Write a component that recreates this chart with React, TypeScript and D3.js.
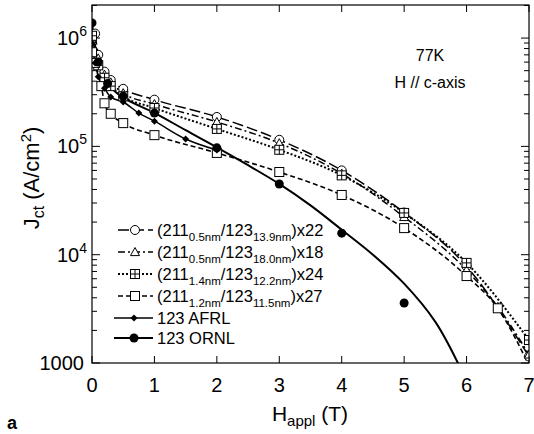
import React from 'react';
import * as d3 from 'd3';

// circles  (211 0.5nm / 123 13.9nm) x22
const hA = [0.05, 0.1, 0.2, 0.3, 0.5, 1, 2, 3, 4, 5, 6, 7];
const jA = [1.1e6, 7.0e5, 4.9e5, 4.1e5, 3.4e5, 2.7e5, 1.87e5, 1.15e5, 6.0e4, 2.45e4, 7.8e3, 1.15e3];
// triangles (211 0.5nm / 123 18.0nm) x18
const hB = [0, 0.1, 0.2, 0.3, 0.5, 1, 2, 3, 4, 5, 6, 6.5, 7];
const jB = [9.5e5, 6.5e5, 4.6e5, 3.9e5, 3.1e5, 2.46e5, 1.68e5, 1.07e5, 5.6e4, 2.23e4, 7.2e3, 3.3e3, 1.2e3];
// crossed squares (211 1.4nm / 123 12.2nm) x24
const hC = [0, 0.1, 0.2, 0.3, 0.5, 1, 2, 3, 4, 5, 6, 7];
const jC = [1.05e6, 5.6e5, 4.3e5, 3.6e5, 2.9e5, 2.26e5, 1.45e5, 9.3e4, 5.4e4, 2.43e4, 8.4e3, 1.63e3];
// open squares (211 1.2nm / 123 11.5nm) x27
const hD = [0, 0.05, 0.15, 0.2, 0.3, 0.5, 1, 2, 3, 4, 5, 6, 6.5, 7];
const jD = [7.4e5, 5.9e5, 3.6e5, 2.5e5, 2.0e5, 1.64e5, 1.27e5, 8.7e4, 5.8e4, 3.56e4, 1.76e4, 6.35e3, 3.2e3, 9.5e2];
// 123 AFRL
const hE = [0, 0.05, 0.1, 0.2, 0.3, 0.5, 0.75, 1, 1.5, 2];
const jE = [9.0e5, 5.9e5, 4.4e5, 3.45e5, 2.85e5, 2.57e5, 2.03e5, 1.71e5, 1.17e5, 9.25e4];
// 123 ORNL points and the drawn curve
const hF = [0, 0.1, 0.25, 0.5, 1, 2, 3, 4, 5];
const jF = [1.38e6, 6.0e5, 3.8e5, 2.9e5, 2.03e5, 9.7e4, 4.49e4, 1.58e4, 3.58e3];
const hFit = [0, 0.1, 0.3, 0.5, 1, 1.5, 2, 2.5, 3, 3.5, 4, 4.5, 5, 5.5, 5.9];
const jFit = [1.38e6, 6.3e5, 3.55e5, 2.82e5, 2.04e5, 1.41e5, 9.8e4, 6.7e4, 4.5e4, 2.85e4, 1.7e4, 1.0e4, 5.4e3, 2.4e3, 9.0e2];

const xTicks = [0, 1, 2, 3, 4, 5, 6, 7];
const yDecades = [1e3, 1e4, 1e5, 1e6];

const legendRows = [
  { a: '0.5nm', b: '13.9nm', k: 'x22' },
  { a: '0.5nm', b: '18.0nm', k: 'x18' },
  { a: '1.4nm', b: '12.2nm', k: 'x24' },
  { a: '1.2nm', b: '11.5nm', k: 'x27' },
];

const FONT = 'Liberation Sans, Arial, sans-serif';

const x = d3.scaleLinear().domain([0, 7]).range([92, 529]);
const y = d3.scaleLog().domain([1000, 2.02e6]).range([363, 5]);

const zip = (h: number[], j: number[]) => h.map((v, i) => [v, j[i]] as [number, number]);

const line = d3.line<[number, number]>()
  .x(d => x(d[0]))
  .y(d => y(d[1]))
  .curve(d3.curveMonotoneX);

const fitLine = d3.line<[number, number]>()
  .x(d => x(d[0]))
  .y(d => y(d[1]))
  .curve(d3.curveCatmullRom);

type Kind = 'circle' | 'tri' | 'grid' | 'square' | 'diamond' | 'dot';

const Marker = ({ kind, cx, cy }: { kind: Kind; cx: number; cy: number }) => {
  const s = 4.5;
  switch (kind) {
    case 'circle':
      return <circle cx={cx} cy={cy} r={s} fill="white" stroke="black" strokeWidth={1} />;
    case 'tri':
      return <path d={`M${cx},${cy - s}L${cx + s},${cy + s * 0.8}L${cx - s},${cy + s * 0.8}Z`} fill="white" stroke="black" strokeWidth={1} />;
    case 'grid':
      return (
        <g stroke="black" strokeWidth={1} fill="white">
          <rect x={cx - s} y={cy - s} width={2 * s} height={2 * s} />
          <path d={`M${cx - s},${cy}H${cx + s}M${cx},${cy - s}V${cy + s}`} />
        </g>
      );
    case 'square':
      return <rect x={cx - s} y={cy - s} width={2 * s} height={2 * s} fill="white" stroke="black" strokeWidth={1} />;
    case 'diamond':
      return <path d={`M${cx},${cy - 3.5}L${cx + 3.5},${cy}L${cx},${cy + 3.5}L${cx - 3.5},${cy}Z`} fill="black" />;
    default:
      return <circle cx={cx} cy={cy} r={4.5} fill="black" />;
  }
};

const series = [
  { pts: zip(hA, jA), kind: 'circle' as Kind, dash: '11,4', w: 1.5 },
  { pts: zip(hB, jB), kind: 'tri' as Kind, dash: '7,3,2,3', w: 1.5 },
  { pts: zip(hC, jC), kind: 'grid' as Kind, dash: '2,2', w: 2 },
  { pts: zip(hD, jD), kind: 'square' as Kind, dash: '5,3', w: 1.6 },
];

export default function App() {
  const minors: number[] = [];
  for (let d = 1e3; d < 2.1e6; d *= 10) {
    for (let m = 2; m <= 9; m++) if (d * m <= 2.02e6) minors.push(d * m);
  }
  const L = 92, R = 529, T = 5, B = 363;
  return (
    <svg width={534} height={434} style={{ position: 'absolute', left: 0, top: 0, background: 'white' }} fontFamily={FONT}>
      <defs>
        <clipPath id="plot">
          <rect x={L} y={T} width={R - L} height={B - T} />
        </clipPath>
      </defs>

      {/* ticks */}
      <g stroke="black" strokeWidth={1}>
        {xTicks.map(t => (
          <g key={t}>
            <line x1={x(t)} x2={x(t)} y1={B} y2={B - 7} />
            <line x1={x(t)} x2={x(t)} y1={T} y2={T + 7} />
          </g>
        ))}
        {yDecades.map(t => (
          <g key={t}>
            <line x1={L} x2={L + 8} y1={y(t)} y2={y(t)} />
            <line x1={R} x2={R - 8} y1={y(t)} y2={y(t)} />
          </g>
        ))}
        {minors.map(t => (
          <g key={t}>
            <line x1={L} x2={L + 5} y1={y(t)} y2={y(t)} />
            <line x1={R} x2={R - 5} y1={y(t)} y2={y(t)} />
          </g>
        ))}
      </g>

      <g clipPath="url(#plot)">
        {series.map((s, i) => (
          <path key={i} d={line(s.pts) || ''} fill="none" stroke="black" strokeWidth={s.w} strokeDasharray={s.dash} />
        ))}
        <path d={line(zip(hE, jE)) || ''} fill="none" stroke="black" strokeWidth={1.5} />
        <path d={fitLine(zip(hFit, jFit)) || ''} fill="none" stroke="black" strokeWidth={2} />
        {series.map((s, i) => (
          <g key={i}>
            {s.pts.filter(p => p[1] >= 1000).map((p, k) => <Marker key={k} kind={s.kind} cx={x(p[0])} cy={y(p[1])} />)}
          </g>
        ))}
        {zip(hE, jE).map((p, k) => <Marker key={k} kind="diamond" cx={x(p[0])} cy={y(p[1])} />)}
        {zip(hF, jF).map((p, k) => <Marker key={k} kind="dot" cx={x(p[0])} cy={y(p[1])} />)}
      </g>

      <rect x={L} y={T} width={R - L} height={B - T} fill="none" stroke="black" strokeWidth={1.2} />

      {/* tick labels */}
      {xTicks.map(t => (
        <text key={t} x={x(t)} y={392} fontSize={20} textAnchor="middle">{t}</text>
      ))}
      {yDecades.map(t =>
        t === 1000 ? (
          <text key={t} x={84} y={y(t) + 7} fontSize={20} textAnchor="end">1000</text>
        ) : (
          <text key={t} x={87} y={y(t) + 7} fontSize={20} textAnchor="end">
            10<tspan fontSize={14} dy={-9}>{Math.log10(t)}</tspan>
          </text>
        )
      )}

      {/* axis titles */}
      <text x={310} y={421} fontSize={21} textAnchor="middle">
        H<tspan fontSize={15} dy={5}>appl</tspan><tspan dy={-5}> (T)</tspan>
      </text>
      <text transform="translate(39,178) rotate(-90)" fontSize={22} textAnchor="middle">
        J<tspan fontSize={16} dy={5}>ct</tspan><tspan dy={-5}> (A/cm</tspan><tspan fontSize={15} dy={-8}>2</tspan><tspan dy={8}>)</tspan>
      </text>
      <text x={7} y={429} fontSize={18} fontWeight="bold">a</text>

      <text x={430} y={61} fontSize={16} textAnchor="middle">77K</text>
      <text x={430} y={88} fontSize={16} textAnchor="middle">H // c-axis</text>

      {/* legend */}
      {legendRows.map((r, i) => {
        const yy = 230 + i * 22;
        const s = series[i];
        return (
          <g key={i}>
            <line x1={118} x2={153} y1={yy} y2={yy} stroke="black" strokeWidth={s.w} strokeDasharray={s.dash} />
            <Marker kind={s.kind} cx={135} cy={yy} />
            <text x={157} y={yy + 6} fontSize={16.5}>
              (211<tspan fontSize={11.5} dy={5}>{r.a}</tspan>
              <tspan dy={-5}>/123</tspan>
              <tspan fontSize={11.5} dy={5}>{r.b}</tspan>
              <tspan dy={-5}>){r.k}</tspan>
            </text>
          </g>
        );
      })}
      {[{ kind: 'diamond' as Kind, label: '123 AFRL' }, { kind: 'dot' as Kind, label: '123 ORNL' }].map((r, i) => {
        const yy = 318 + i * 20;
        return (
          <g key={r.label}>
            <line x1={114} x2={153} y1={yy} y2={yy} stroke="black" strokeWidth={i === 0 ? 1.5 : 2} />
            <Marker kind={r.kind} cx={134} cy={yy} />
            <text x={157} y={yy + 6} fontSize={16.5}>{r.label}</text>
          </g>
        );
      })}
    </svg>
  );
}
